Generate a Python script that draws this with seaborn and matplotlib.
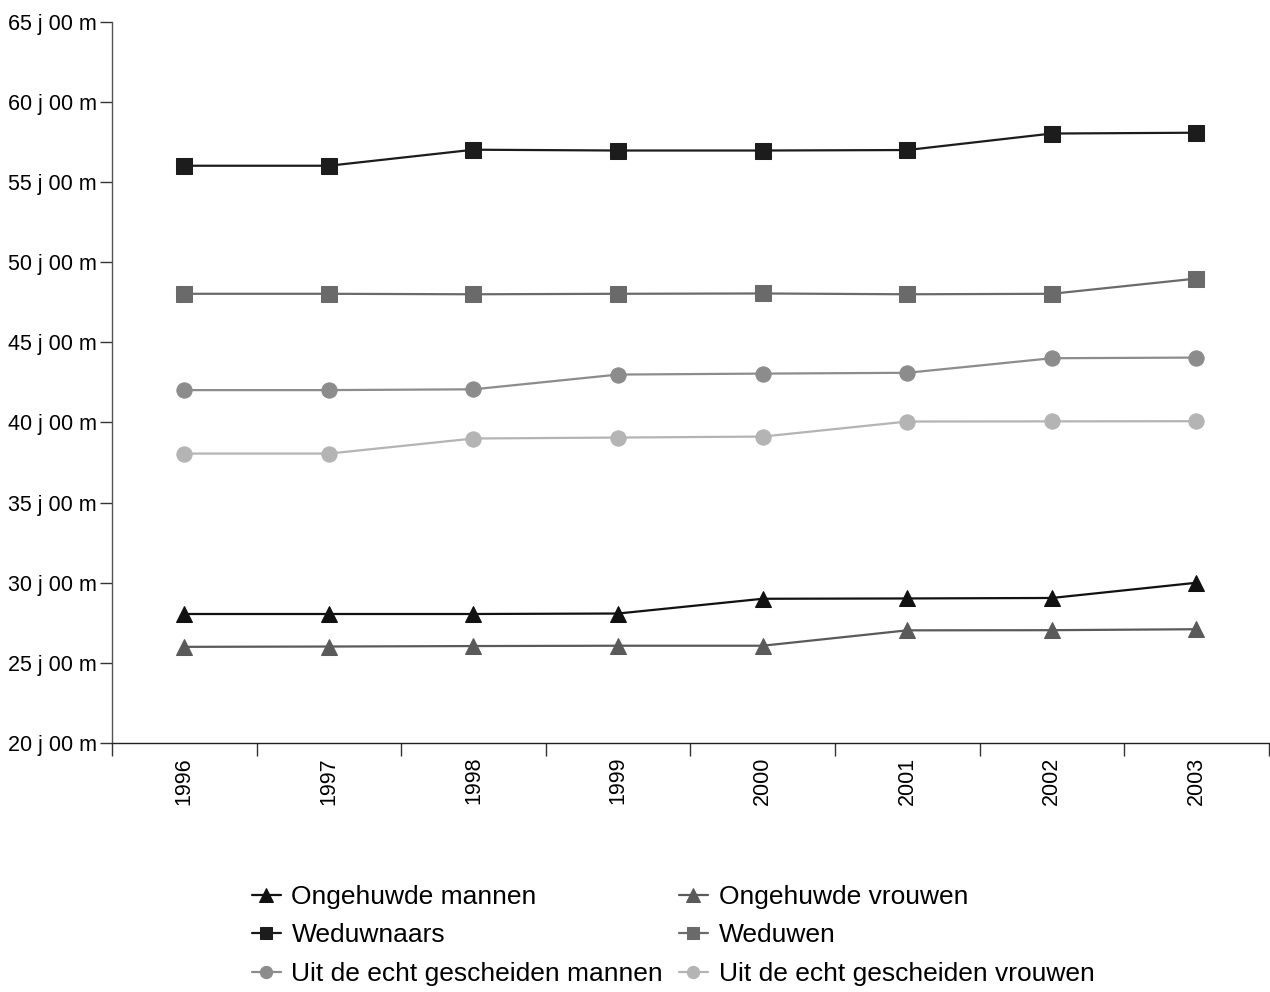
import seaborn as sns
import matplotlib.pyplot as plt
import pandas as pd
import numpy as np

years = ["1996", "1997", "1998", "1999", "2000", "2001", "2002", "2003"]

# average age in years (decimal)
ongehuwde_mannen = [28.05, 28.05, 28.05, 28.08, 29.0, 29.02, 29.05, 30.0]
ongehuwde_vrouwen = [26.0, 26.02, 26.05, 26.07, 26.07, 27.03, 27.04, 27.1]
weduwnaars = [56.02, 56.02, 57.02, 56.97, 56.97, 57.0, 58.03, 58.08]
weduwen = [48.03, 48.03, 48.0, 48.03, 48.05, 48.0, 48.03, 48.98]
uit_mannen = [42.02, 42.02, 42.07, 42.99, 43.05, 43.1, 44.01, 44.05]
uit_vrouwen = [38.06, 38.06, 39.0, 39.06, 39.12, 40.06, 40.07, 40.08]

series = {
    "Ongehuwde mannen": ongehuwde_mannen,
    "Ongehuwde vrouwen": ongehuwde_vrouwen,
    "Weduwnaars": weduwnaars,
    "Weduwen": weduwen,
    "Uit de echt gescheiden mannen": uit_mannen,
    "Uit de echt gescheiden vrouwen": uit_vrouwen,
}
colors = {
    "Ongehuwde mannen": "#111111",
    "Ongehuwde vrouwen": "#5a5a5a",
    "Weduwnaars": "#1c1c1c",
    "Weduwen": "#6a6a6a",
    "Uit de echt gescheiden mannen": "#8c8c8c",
    "Uit de echt gescheiden vrouwen": "#b4b4b4",
}
markers = {
    "Ongehuwde mannen": "^",
    "Ongehuwde vrouwen": "^",
    "Weduwnaars": "s",
    "Weduwen": "s",
    "Uit de echt gescheiden mannen": "o",
    "Uit de echt gescheiden vrouwen": "o",
}

rows = []
for name, vals in series.items():
    for i, v in enumerate(vals):
        rows.append({"x": i, "value": v, "groep": name})
df = pd.DataFrame(rows)

sns.set_style("white")
plt.rcParams['font.family'] = ['Liberation Sans', 'DejaVu Sans']
plt.rcParams['text.color'] = 'black'
plt.rcParams['xtick.color'] = 'black'
plt.rcParams['ytick.color'] = 'black'

fig = plt.figure(figsize=(12.7, 9.92), dpi=100)
ax = fig.add_axes([0.0882, 0.251, 0.9108, 0.727])

for name in series:
    sub = df[df["groep"] == name]
    sns.lineplot(data=sub, x="x", y="value", ax=ax, color=colors[name],
                 marker=markers[name], markersize=11 if markers[name] != "^" else 12,
                 markeredgecolor=colors[name], linewidth=1.6, label=name)

ax.set_xlim(-0.5, 7.5)
ax.set_ylim(20, 65)
ax.set_yticks(np.arange(20, 66, 5))
ax.set_yticklabels([f"{int(v)} j 00 m" for v in np.arange(20, 66, 5)], fontsize=15.5)
ax.set_xticks(range(len(years)))
ax.set_xticklabels(years, rotation=90, fontsize=15.5)
ax.set_xticks(np.arange(-0.5, 8, 1), minor=True)
ax.tick_params(axis="x", which="major", bottom=True, length=0, pad=10)
ax.tick_params(axis="x", which="minor", bottom=True, length=9.5, width=1, color="#333333", direction="out")
ax.tick_params(axis="y", left=True, length=9, width=1, color="#333333", direction="out", pad=2)
ax.set_xlabel("")
ax.set_ylabel("")
for s in ["top", "right"]:
    ax.spines[s].set_visible(False)
ax.spines["left"].set_color("#555555")
ax.spines["bottom"].set_color("#222222")
ax.spines["left"].set_linewidth(1)
ax.spines["bottom"].set_linewidth(1)

h, l = ax.get_legend_handles_labels()
ax.get_legend().remove()
order = [0, 2, 4, 1, 3, 5]
fig.legend([h[i] for i in order], [l[i] for i in order], ncol=2, loc="center",
           bbox_to_anchor=(0.53, 0.057), frameon=False, fontsize=19,
           handlelength=1.1, handletextpad=0.4, columnspacing=0.6, labelspacing=0.55,
           markerscale=0.8)

fig.savefig("out.png", dpi=100)
